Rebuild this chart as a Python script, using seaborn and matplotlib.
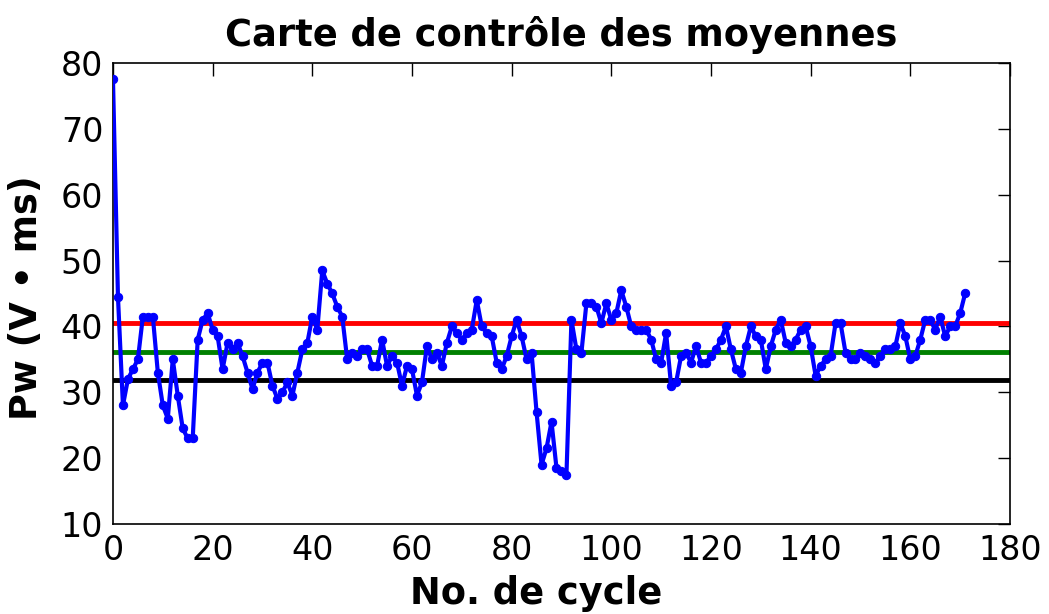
import numpy as np
import pandas as pd
import seaborn as sns
import matplotlib
matplotlib.use("Agg")
import matplotlib.pyplot as plt

# Mean Pw per cycle
pw = [
    77.5, 44.5, 28.0, 32.0, 33.5, 35.0, 41.5, 41.5, 41.5, 33.0,
    28.0, 26.0, 35.0, 29.5, 24.5, 23.0, 23.0, 38.0, 41.0, 42.0,
    39.5, 38.5, 33.5, 37.5, 36.5, 37.5, 35.5, 33.0, 30.5, 33.0,
    34.5, 34.5, 31.0, 29.0, 30.0, 31.5, 29.5, 33.0, 36.5, 37.5,
    41.5, 39.5, 48.5, 46.5, 45.0, 43.0, 41.5, 35.0, 36.0, 35.5,
    36.5, 36.5, 34.0, 34.0, 38.0, 34.0, 35.5, 34.5, 31.0, 34.0,
    33.5, 29.5, 31.5, 37.0, 35.0, 36.0, 34.0, 37.5, 40.0, 39.0,
    38.0, 39.0, 39.5, 44.0, 40.0, 39.0, 38.5, 34.5, 33.5, 35.5,
    38.5, 41.0, 38.5, 35.0, 36.0, 27.0, 19.0, 21.5, 25.5, 18.5,
    18.0, 17.5, 41.0, 36.5, 36.0, 43.5, 43.5, 43.0, 40.5, 43.5,
    41.0, 42.0, 45.5, 43.0, 40.0, 39.5, 39.5, 39.5, 38.0, 35.0,
    34.5, 39.0, 31.0, 31.5, 35.5, 36.0, 34.5, 37.0, 34.5, 34.5,
    35.5, 36.5, 38.0, 40.0, 36.5, 33.5, 33.0, 37.0, 40.0, 38.5,
    38.0, 33.5, 37.0, 39.5, 41.0, 37.5, 37.0, 38.0, 39.5, 40.0,
    37.0, 32.5, 34.0, 35.0, 35.5, 40.5, 40.5, 36.0, 35.0, 35.0,
    36.0, 35.5, 35.0, 34.5, 35.5, 36.5, 36.5, 37.0, 40.5, 38.5,
    35.0, 35.5, 38.0, 41.0, 41.0, 39.5, 41.5, 38.5, 40.0, 40.0,
    42.0, 45.0,
]
cycles = list(range(len(pw)))

# Control limits and centre line
upper_limit = 40.5
centre_line = 36.1
lower_limit = 31.9

x_ticks = [0, 20, 40, 60, 80, 100, 120, 140, 160, 180]
y_ticks = [10, 20, 30, 40, 50, 60, 70, 80]

sns.set_style("white")
plt.rcParams["font.family"] = ["DejaVu Sans"]
plt.rcParams["text.color"] = "black"
plt.rcParams["axes.labelcolor"] = "black"
plt.rcParams["xtick.color"] = "black"
plt.rcParams["ytick.color"] = "black"

fig = plt.figure(figsize=(10.49, 6.14), dpi=100)
ax = fig.add_axes([0.1077, 0.1466, 0.8551, 0.7508])

df = pd.DataFrame({"cycle": cycles, "pw": pw})
sns.lineplot(data=df, x="cycle", y="pw", ax=ax, color="blue", linewidth=3,
             marker="o", markersize=6, markeredgecolor="blue", zorder=3)

ax.axhline(upper_limit, color="red", linewidth=3.5, zorder=2)
ax.axhline(centre_line, color="green", linewidth=3.5, zorder=2)
ax.axhline(lower_limit, color="black", linewidth=3.5, zorder=2)

ax.set_xlim(0, 180)
ax.set_ylim(10, 80)
ax.set_xticks(x_ticks)
ax.set_yticks(y_ticks)
ax.tick_params(direction="in", length=9, width=1, top=True, right=True,
               labelsize=24, pad=7, colors="black")
for s in ax.spines.values():
    s.set_color("black")
    s.set_linewidth(1.2)

ax.set_title("Carte de contrôle des moyennes", fontsize=26.5, fontweight="bold",
             pad=12, color="black")
ax.set_xlabel("No. de cycle", fontsize=26.5, fontweight="bold", color="black")
ax.set_ylabel("Pw (V • ms)", fontsize=26.5, fontweight="bold", color="black")
ax.xaxis.set_label_coords(0.472, -0.11)
ax.yaxis.set_label_coords(-0.076, 0.49)

fig.savefig("out.png", dpi=100)
